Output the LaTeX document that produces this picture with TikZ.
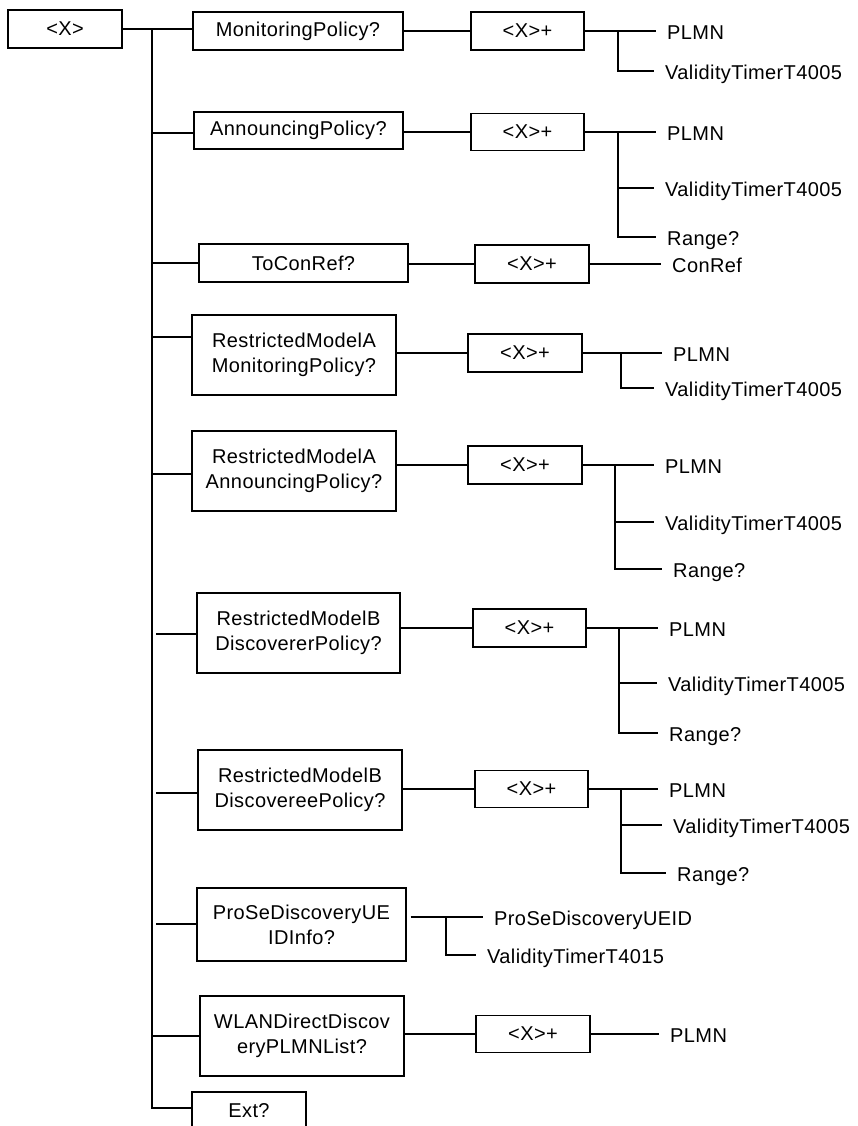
\documentclass[tikz,border=0pt]{standalone}
\usepackage{fontspec}
\setmainfont{Liberation Sans}[LetterSpace=2]
\newcommand\myfs{\fontsize{20}{25}\selectfont}
\begin{document}
\begin{tikzpicture}[x=1pt,y=-1pt,
  bx/.style={draw, line width=1.4pt, inner sep=0pt, align=center, font=\myfs},
  ln/.style={line width=1.4pt},
  leaf/.style={anchor=west, inner xsep=11pt, inner ysep=0pt, text height=17pt, text depth=0pt, font=\myfs}]
\clip (0,0) rectangle (858,1126);
% first level
\node[bx, minimum width=114pt, minimum height=38pt] (root) at (65,29) {<X>};
\node[bx, minimum width=210pt, minimum height=38pt] (mp) at (298,31) {MonitoringPolicy?};
\node[bx, minimum width=209pt, minimum height=37pt] (ap) at (298.5,130.5) {AnnouncingPolicy?};
\node[bx, minimum width=209pt, minimum height=38pt] (tcr) at (303.5,263) {ToConRef?};
\node[bx, minimum width=204pt, minimum height=80pt] (rmam) at (294,355) {RestrictedModelA\\MonitoringPolicy?};
\node[bx, minimum width=204pt, minimum height=80pt] (rmaa) at (294,471) {RestrictedModelA\\AnnouncingPolicy?};
\node[bx, minimum width=203pt, minimum height=80pt] (rmbr) at (298.5,633) {RestrictedModelB\\DiscovererPolicy?};
\node[bx, minimum width=204pt, minimum height=80pt] (rmbe) at (300,790) {RestrictedModelB\\DiscovereePolicy?};
\node[bx, minimum width=209pt, minimum height=73pt] (prose) at (301.5,924.5) {ProSeDiscoveryUE\\IDInfo?};
\node[bx, minimum width=204pt, minimum height=80pt] (wlan) at (302,1036) {WLANDirectDiscov\\eryPLMNList?};
\node[bx, minimum width=114pt, minimum height=38pt] (ext) at (249,1111) {Ext?};
% second level
\node[bx, minimum width=113pt, minimum height=38pt] (x1) at (527.5,31) {<X>+};
\node[bx, minimum width=113pt, minimum height=37pt] (x2) at (527.5,132) {<X>+};
\node[bx, minimum width=114pt, minimum height=38pt] (x3) at (532,264) {<X>+};
\node[bx, minimum width=114pt, minimum height=38pt] (x4) at (525,353) {<X>+};
\node[bx, minimum width=114pt, minimum height=38pt] (x5) at (525,465) {<X>+};
\node[bx, minimum width=113pt, minimum height=38pt] (x6) at (529.5,628) {<X>+};
\node[bx, minimum width=113pt, minimum height=37pt] (x7) at (531.5,789) {<X>+};
\node[bx, minimum width=114pt, minimum height=37pt] (x8) at (533,1034) {<X>+};
% leaves
\node[leaf] (l1a) at (656,31) {PLMN};
\node[leaf] (l1b) at (654,71) {ValidityTimerT4005};
\node[leaf] (l2a) at (656,132) {PLMN};
\node[leaf] (l2b) at (654,188) {ValidityTimerT4005};
\node[leaf] (l2c) at (656,237) {Range?};
\node[leaf] (l3) at (661,264) {ConRef};
\node[leaf] (l4a) at (662,353) {PLMN};
\node[leaf] (l4b) at (654,388) {ValidityTimerT4005};
\node[leaf] (l5a) at (654,465) {PLMN};
\node[leaf] (l5b) at (654,522) {ValidityTimerT4005};
\node[leaf] (l5c) at (662,569) {Range?};
\node[leaf] (l6a) at (658,628) {PLMN};
\node[leaf] (l6b) at (657,683) {ValidityTimerT4005};
\node[leaf] (l6c) at (658,733) {Range?};
\node[leaf] (l7a) at (658,789) {PLMN};
\node[leaf] (l7b) at (662,825) {ValidityTimerT4005};
\node[leaf] (l7c) at (666,873) {Range?};
\node[leaf] (l8a) at (483,917) {ProSeDiscoveryUEID};
\node[leaf] (l8b) at (476,955) {ValidityTimerT4015};
\node[leaf] (l9) at (659,1034) {PLMN};
% trunk
\coordinate (tb) at (152,1108);
\draw[ln] (root.east) -- (root.east -| mp.west);
\draw[ln] (root.east -| tb) -- (tb) -- (tb -| ext.west);
\coordinate (bap) at (152,133);
\coordinate (btcr) at (152,263);
\coordinate (brmam) at (152,337);
\coordinate (brmaa) at (152,474);
\coordinate (brmbr) at (156,634);
\coordinate (brmbe) at (156,793);
\coordinate (bprose) at (156,924);
\coordinate (bwlan) at (151,1036);
\draw[ln] (bap) -- (bap -| ap.west);
\draw[ln] (btcr) -- (btcr -| tcr.west);
\draw[ln] (brmam) -- (brmam -| rmam.west);
\draw[ln] (brmaa) -- (brmaa -| rmaa.west);
\draw[ln] (brmbr) -- (brmbr -| rmbr.west);
\draw[ln] (brmbe) -- (brmbe -| rmbe.west);
\draw[ln] (bprose) -- (bprose -| prose.west);
\draw[ln] (bwlan) -- (bwlan -| wlan.west);
% first level to second level
\draw[ln] (mp.east |- x1.west) -- (x1.west);
\draw[ln] (ap.east |- x2.west) -- (x2.west);
\draw[ln] (tcr.east |- x3.west) -- (x3.west);
\draw[ln] (rmam.east |- x4.west) -- (x4.west);
\draw[ln] (rmaa.east |- x5.west) -- (x5.west);
\draw[ln] (rmbr.east |- x6.west) -- (x6.west);
\draw[ln] (rmbe.east |- x7.west) -- (x7.west);
\draw[ln] (wlan.east |- x8.west) -- (x8.west);
% brackets to leaves
\coordinate (k1) at (618,31);
\draw[ln] (x1.east) -- (l1a.west);
\draw[ln] (k1) |- (l1b.west);
\coordinate (k2) at (618,132);
\draw[ln] (x2.east) -- (l2a.west);
\draw[ln] (k2) |- (l2b.west);
\draw[ln] (k2) |- (l2c.west);
\draw[ln] (x3.east) -- (l3.west);
\coordinate (k4) at (621,353);
\draw[ln] (x4.east) -- (l4a.west);
\draw[ln] (k4) |- (l4b.west);
\coordinate (k5) at (615,465);
\draw[ln] (x5.east) -- (l5a.west);
\draw[ln] (k5) |- (l5b.west);
\draw[ln] (k5) |- (l5c.west);
\coordinate (k6) at (619,628);
\draw[ln] (x6.east) -- (l6a.west);
\draw[ln] (k6) |- (l6b.west);
\draw[ln] (k6) |- (l6c.west);
\coordinate (k7) at (621,789);
\draw[ln] (x7.east) -- (l7a.west);
\draw[ln] (k7) |- (l7b.west);
\draw[ln] (k7) |- (l7c.west);
\coordinate (k8) at (446,917);
\draw[ln] ([xshift=4pt]prose.east |- l8a.west) -- (l8a.west);
\draw[ln] (k8) |- (l8b.west);
\draw[ln] (x8.east) -- (l9.west);
\end{tikzpicture}
\end{document}
